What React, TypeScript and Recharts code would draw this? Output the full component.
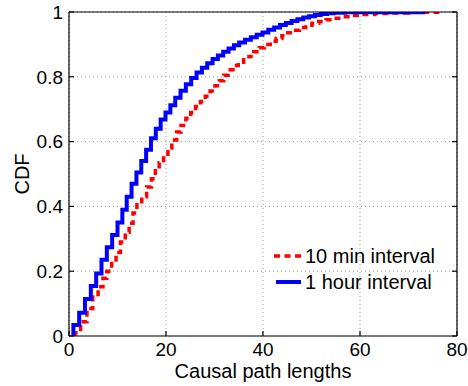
import React from 'react';
import { LineChart, Line, XAxis, YAxis, CartesianGrid, Legend, Label } from 'recharts';

const xTicks = [0, 20, 40, 60, 80];
const yTicks = [0, 0.2, 0.4, 0.6, 0.8, 1];

const hourX = [0.9, 0.9, 2.1, 3.3, 4.5, 5.6, 6.7, 7.8, 8.9, 10.0, 11.0, 11.9, 12.9, 13.9, 14.9, 15.9, 16.9, 17.9, 18.9, 19.9, 20.9, 21.9, 23.0, 24.1, 25.2, 26.3, 27.4, 28.5, 29.6, 30.7, 31.8, 32.9, 34.0, 35.1, 36.3, 37.5, 38.7, 39.9, 41.1, 42.3, 43.5, 44.7, 45.9, 47.1, 48.3, 49.5, 50.7, 51.9, 53.2, 54.6, 57.0, 61.0, 73.0];
const hourY = [0, 0.034, 0.072, 0.114, 0.154, 0.193, 0.235, 0.274, 0.312, 0.35, 0.39, 0.43, 0.47, 0.505, 0.54, 0.575, 0.61, 0.64, 0.668, 0.69, 0.712, 0.735, 0.757, 0.777, 0.796, 0.813, 0.828, 0.842, 0.855, 0.866, 0.877, 0.887, 0.897, 0.906, 0.914, 0.922, 0.93, 0.937, 0.945, 0.952, 0.96, 0.966, 0.972, 0.978, 0.983, 0.987, 0.991, 0.994, 0.996, 0.998, 0.999, 0.9995, 1.0];

const minX = [1.2, 1.2, 2.4, 3.7, 4.9, 6.0, 7.0, 7.8, 8.8, 9.7, 10.6, 11.6, 12.4, 13.2, 14.0, 15.0, 16.0, 17.0, 17.8, 18.6, 19.5, 20.4, 21.2, 22.2, 23.1, 24.1, 25.1, 26.1, 27.1, 28.1, 29.1, 30.1, 31.0, 31.9, 32.8, 33.8, 34.9, 36.0, 37.1, 38.1, 39.2, 40.3, 41.5, 42.7, 43.9, 45.1, 46.3, 47.5, 48.8, 50.1, 51.5, 53.0, 54.6, 56.3, 58.2, 60.3, 63.0, 66.0, 70.0, 76.0];
const minY = [0, 0.01, 0.044, 0.085, 0.12, 0.152, 0.178, 0.2, 0.224, 0.258, 0.29, 0.32, 0.348, 0.38, 0.405, 0.43, 0.46, 0.485, 0.51, 0.535, 0.555, 0.58, 0.605, 0.63, 0.65, 0.672, 0.69, 0.708, 0.724, 0.74, 0.756, 0.772, 0.788, 0.805, 0.822, 0.835, 0.845, 0.853, 0.863, 0.877, 0.89, 0.9, 0.91, 0.918, 0.927, 0.936, 0.944, 0.952, 0.959, 0.965, 0.971, 0.976, 0.981, 0.985, 0.989, 0.992, 0.995, 0.997, 0.999, 1.0];

const seriesNames = ['10 min interval', '1 hour interval'];

const hourData = hourX.map((x, i) => ({ x, y: hourY[i] }));
const minData = minX.map((x, i) => ({ x, y: minY[i] }));

const FONT = '"Liberation Sans", Arial, Helvetica, sans-serif';
const tickStyle = { fontSize: 19, fill: '#000', fontFamily: FONT };

const LegendContent = () => (
  <div style={{ fontFamily: FONT, fontSize: 20, color: '#000', lineHeight: '26px' }}>
    <div style={{ display: 'flex', alignItems: 'center' }}>
      <svg width={31} height={10}><line x1={0} y1={5} x2={27} y2={5} stroke="#ff0000" strokeWidth={3.5} strokeDasharray="6 4.5" /></svg>
      <span>{seriesNames[0]}</span>
    </div>
    <div style={{ display: 'flex', alignItems: 'center' }}>
      <svg width={31} height={10}><line x1={2} y1={5} x2={27} y2={5} stroke="#0000ff" strokeWidth={4} /></svg>
      <span>{seriesNames[1]}</span>
    </div>
  </div>
);

const YLabel = (props: any) => {
  const vb = props.viewBox || {};
  const cx = vb.x + 21.5;
  const cy = vb.y + vb.height / 2;
  return (
    <text x={cx} y={cy} transform={`rotate(-90, ${cx}, ${cy})`} textAnchor="middle" dominantBaseline="central" style={{ fontSize: 20, fontFamily: FONT, fill: '#000' }}>
      CDF
    </text>
  );
};

export default function App() {
  return (
    <div style={{ position: 'absolute', left: 0, top: 0, width: 468, height: 386, overflow: 'hidden' }}>
      <LineChart width={468} height={386} margin={{ top: 11, right: 10, bottom: 0, left: 0 }}>
        <CartesianGrid stroke="#9a9a9a" strokeDasharray="1 3" strokeWidth={1} />
        <XAxis
          dataKey="x"
          type="number"
          domain={[0, 80]}
          ticks={xTicks}
          allowDataOverflow
          height={50}
          tickSize={-5}
          tickMargin={12}
          tick={tickStyle}
          axisLine={{ stroke: '#000', strokeWidth: 1.2 }}
          tickLine={{ stroke: '#000', strokeWidth: 1.2 }}
        >
          <Label value="Causal path lengths" position="insideBottom" offset={8} style={{ fontSize: 20, fontFamily: FONT, fill: '#000' }} />
        </XAxis>
        <XAxis
          xAxisId="top"
          orientation="top"
          type="number"
          domain={[0, 80]}
          ticks={xTicks}
          allowDataOverflow
          height={1}
          tickSize={-5}
          tickFormatter={() => ''}
          axisLine={{ stroke: '#000', strokeWidth: 1.2 }}
          tickLine={{ stroke: '#000', strokeWidth: 1.2 }}
        />
        <YAxis
          type="number"
          domain={[0, 1]}
          ticks={yTicks}
          allowDataOverflow
          width={69}
          tickSize={-5}
          tickMargin={11}
          tick={tickStyle}
          axisLine={{ stroke: '#000', strokeWidth: 1.2 }}
          tickLine={{ stroke: '#000', strokeWidth: 1.2 }}
          label={<YLabel />}
        />
        <YAxis
          yAxisId="right"
          orientation="right"
          type="number"
          domain={[0, 1]}
          ticks={yTicks}
          allowDataOverflow
          width={1}
          tickSize={-5}
          tickFormatter={() => ''}
          axisLine={{ stroke: '#000', strokeWidth: 1.2 }}
          tickLine={{ stroke: '#000', strokeWidth: 1.2 }}
        />
        <Legend
          layout="vertical"
          align="center"
          verticalAlign="middle"
          content={<LegendContent />}
          wrapperStyle={{ position: 'absolute', left: 274, top: 243, width: 'auto', height: 'auto' }}
        />
        <Line
          data={minData}
          dataKey="y"
          name={seriesNames[0]}
          type="stepAfter"
          stroke="#ff0000"
          strokeWidth={3.5}
          strokeDasharray="6 4.5"
          dot={false}
          activeDot={false}
          isAnimationActive={false}
        />
        <Line
          data={hourData}
          dataKey="y"
          name={seriesNames[1]}
          type="stepAfter"
          stroke="#0000ff"
          strokeWidth={4}
          dot={false}
          activeDot={false}
          isAnimationActive={false}
        />
      </LineChart>
    </div>
  );
}
